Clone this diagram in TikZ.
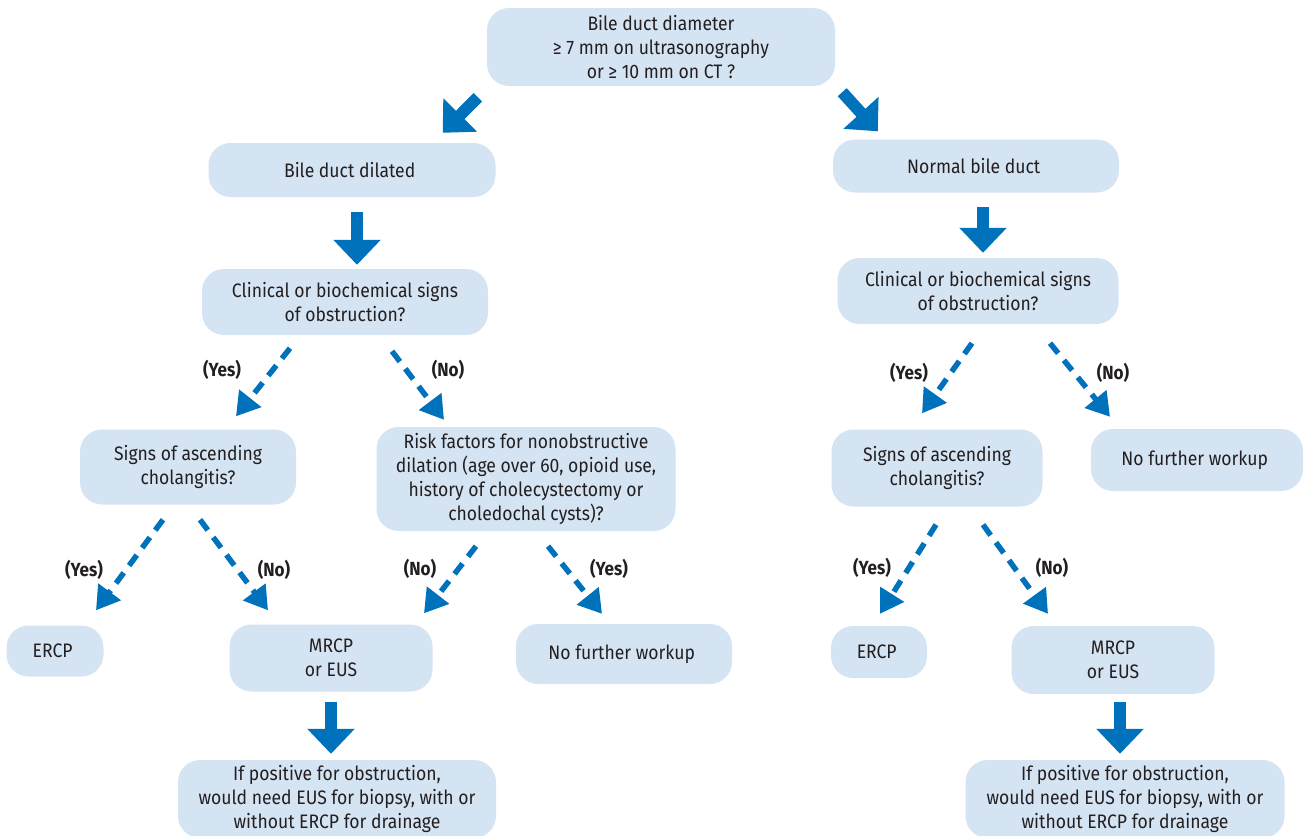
\documentclass[tikz,border=0pt]{standalone}
\usepackage{fontspec}
\setmainfont[FakeStretch=0.9]{Fira Sans}
\usepackage{xcolor}
\usepackage{tikz}
\usetikzlibrary{positioning,arrows.meta,calc}

\definecolor{boxblue}{HTML}{D5E4F3}
\definecolor{arrowblue}{HTML}{0072BC}
\definecolor{inkgray}{HTML}{231F20}

\begin{document}
\begin{tikzpicture}[x = 1pt, y = -1pt,
  box/.style = {fill = boxblue, rounded corners = 22pt, align = center,
    text = inkgray, inner sep = 0pt,
    font = \fontsize{19.5}{24}\selectfont},
  bigarrow/.style = {draw = arrowblue, line width = 12pt,
    -{Triangle[width = 46pt, length = 25pt]}},
  dasharrow/.style = {draw = arrowblue, line width = 5.5pt,
    dash pattern = on 13pt off 9pt,
    -{Triangle[width = 27pt, length = 23pt]}},
  answer/.style = {text = inkgray,
    font = \fontsize{19}{22}\selectfont\bfseries}]
  \useasboundingbox (0, 0) rectangle (1305, 835);
  \clip (0, 0) rectangle (1305, 835);

  \node[box, minimum width = 348pt, minimum height = 78pt] (diam) at (661, 47){
    Bile duct diameter\\ ≥ 7 mm on ultrasonography\\ or ≥ 10 mm on CT ?
  };

  % left branch
  \node[box, minimum width = 287pt, minimum height = 54pt] (dilated) at (352, 170){
    Bile duct dilated
  };

  \node[box, minimum width = 286pt, minimum height = 66pt] (clinL) at (345, 302){
    Clinical or biochemical signs\\ of obstruction?
  };

  \node[box, minimum width = 216pt, minimum height = 75pt] (signL) at (188, 467){
    Signs of ascending\\ cholangitis?
  };

  \node[box, minimum width = 299pt, minimum height = 104pt] (risk) at (526, 479){
    Risk factors for nonobstructive\\ dilation (age over 60, opioid use,\\
    history of cholecystectomy or\\ choledochal cysts)?
  };

  \node[box, minimum width = 97pt, minimum height = 51pt] (ercpL) at (55, 651){
    ERCP
  };

  \node[box, minimum width = 203pt, minimum height = 67pt] (mrcpL) at (331, 658){
    MRCP\\ or EUS
  };

  \node[box, minimum width = 216pt, minimum height = 60pt] (nfwM) at (624, 654){
    No further workup
  };

  \node[box, minimum width = 318pt, minimum height = 78pt] (posL) at (337, 799){
    If positive for obstruction,\\ would need EUS for biopsy, with or\\
    without ERCP for drainage
  };

  % right branch
  \node[box, minimum width = 286pt, minimum height = 53pt] (normal) at (976, 166){
    Normal bile duct
  };

  \node[box, minimum width = 281pt, minimum height = 66pt] (clinR) at (978, 291){
    Clinical or biochemical signs\\ of obstruction?
  };

  \node[box, minimum width = 211pt, minimum height = 77pt] (signR) at (937, 468){
    Signs of ascending\\ cholangitis?
  };

  \node[box, minimum width = 212pt, minimum height = 62pt] (nfwR) at (1197, 460){
    No further workup
  };

  \node[box, minimum width = 96pt, minimum height = 52pt] (ercpR) at (879, 652){
    ERCP
  };

  \node[box, minimum width = 203pt, minimum height = 68pt] (mrcpR) at (1113, 660){
    MRCP\\ or EUS
  };

  \node[box, minimum width = 319pt, minimum height = 78pt] (posR) at (1125, 799){
    If positive for obstruction,\\ would need EUS for biopsy, with or\\
    without ERCP for drainage
  };

  % solid arrows
  \draw[bigarrow] ($(diam.south west) + (-9, 11)$) -- ($(dilated.north east) + (-53, -10)$);
  \draw[bigarrow] ($(diam.south east) + (7, 6)$) -- ($(normal.north west) + (45, -8)$);
  \draw[bigarrow] ($(dilated.south) + (5, 15)$) -- ($(clinL.north) + (12, -4)$);
  \draw[bigarrow] ($(normal.south) + (7, 14)$) -- ($(clinR.north) + (5, -5)$);
  \draw[bigarrow] ($(mrcpL.south) + (0, 10)$) -- ($(posL.north) + (-6, -6)$);
  \draw[bigarrow] ($(mrcpR.south) + (7, 8)$) -- ($(posR.north) + (-5, -6)$);

  % dashed arrows
  \draw[dasharrow] ($(clinL.south) + (-55, 13)$) -- ($(signL.north) + (48, -13)$);
  \draw[dasharrow] ($(clinL.south) + (47, 16)$) -- ($(risk.north) + (-82, -7)$);
  \draw[dasharrow] ($(signL.south) + (-25, 15)$) -- ($(ercpL.north) + (41, -15)$);
  \draw[dasharrow] ($(signL.south) + (12, 15)$) -- ($(mrcpL.north) + (-63, -14)$);
  \draw[dasharrow] ($(risk.south) + (-50, 15)$) -- ($(mrcpL.north) + (93, -11)$);
  \draw[dasharrow] ($(risk.south) + (22, 15)$) -- ($(nfwM.north) + (-22, -10)$);

  \draw[dasharrow] ($(clinR.south) + (-6, 19)$) -- ($(signR.north) + (-15, -16)$);
  \draw[dasharrow] ($(clinR.south) + (72, 19)$) -- ($(nfwR.north) + (-87, -12)$);
  \draw[dasharrow] ($(signR.south) + (-1, 18)$) -- ($(ercpR.north) + (1, -12)$);
  \draw[dasharrow] ($(signR.south) + (46, 18)$) -- ($(mrcpR.north) + (-65, -12)$);

  % answers
  \node[answer] (yes1) at (222, 370) {(Yes)};
  \node[answer] (no1) at (448, 370) {(No)};
  \node[answer] (yes2) at (84, 570) {(Yes)};
  \node[answer] (no2) at (274, 570) {(No)};
  \node[answer] (no3) at (420, 569) {(No)};
  \node[answer] (yes3) at (609, 569) {(Yes)};
  \node[answer] (yes4) at (909, 373) {(Yes)};
  \node[answer] (no4) at (1113, 373) {(No)};
  \node[answer] (yes5) at (872, 568) {(Yes)};
  \node[answer] (no5) at (1052, 568) {(No)};
\end{tikzpicture}
\end{document}
